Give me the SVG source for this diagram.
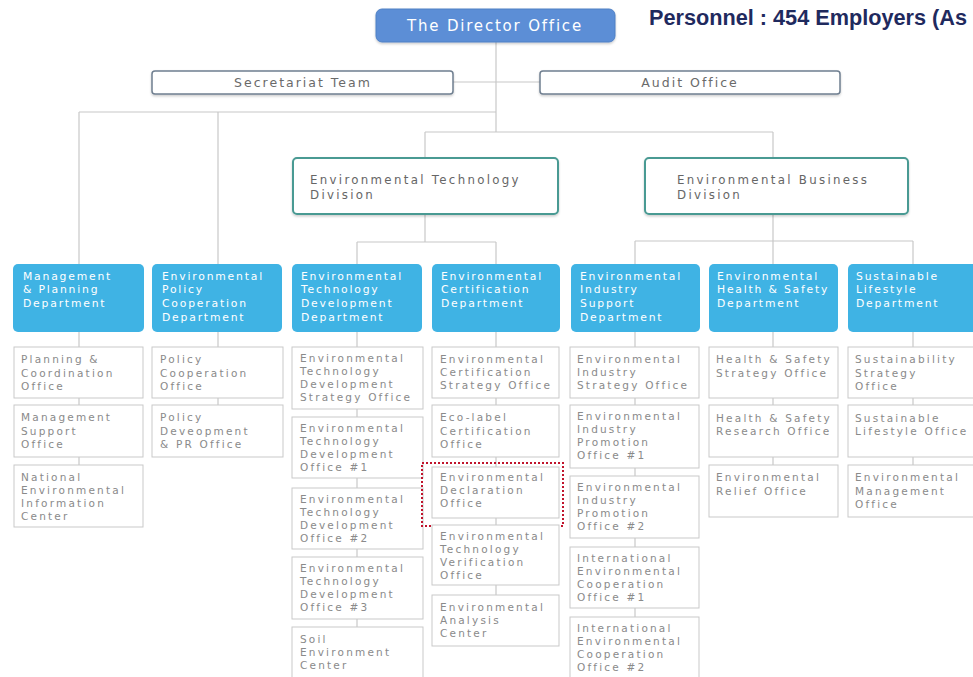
<svg xmlns="http://www.w3.org/2000/svg" width="973" height="677" viewBox="0 0 973 677">
<defs>
<style>
.bg{fill:#ffffff}
.dir{fill:#5b8ed6;stroke:#4f80c4;stroke-width:1}
.dirt{font-family:"DejaVu Sans",sans-serif;font-size:15px;fill:#ffffff;letter-spacing:1.8px}
.per{font-family:"Liberation Sans","DejaVu Sans",sans-serif;font-weight:bold;font-size:22px;fill:#1f2a5e}
.sec{fill:#ffffff;stroke:#6f7f90;stroke-width:1.5}
.sect{font-family:"DejaVu Sans",sans-serif;font-size:12.5px;fill:#6a6a6a;letter-spacing:2px}
.div{fill:#ffffff;stroke:#4a9a93;stroke-width:2}
.divt{font-family:"DejaVu Sans",sans-serif;font-size:11.8px;fill:#666666;letter-spacing:2.3px}
.dept{fill:#3fb3e4}
.dt{font-family:"DejaVu Sans",sans-serif;font-size:10.8px;fill:#ffffff;letter-spacing:1.8px}
.off{fill:#ffffff;stroke:#c9c9c9;stroke-width:1}
.ot{font-family:"DejaVu Sans",sans-serif;font-size:10.5px;fill:#8a8a8a;letter-spacing:2.2px}
.ln{fill:none;stroke:#c8c8c8;stroke-width:1.2}
.hl{fill:none;stroke:#c0142c;stroke-width:2;stroke-dasharray:2 2}
</style>
<filter id="sh" x="-5%" y="-10%" width="110%" height="140%">
<feDropShadow dx="0" dy="1.5" stdDeviation="1" flood-color="#000" flood-opacity="0.2"/>
</filter>
</defs>
<rect class="bg" x="0" y="0" width="973" height="677"/>

<g id="connectors">
<path class="ln" d="M496 42V132 M453 82H540 M79 112H496 M79 112V264 M218 112V264 M425 132H773 M425 132V158 M773 132V158 M425 214V242 M357 242H496 M357 242V264 M496 242V264 M773 214V264 M635 241H913 M635 241V264 M913 241V264"/>
<path class="ln" d="M79 332V347 M79 398V405 M79 457V465 M218 332V347 M218 398V405 M357 332V347 M357 409V417 M357 478V488 M357 549V557 M357 619V627 M496 332V347 M496 398V405 M496 457V467 M496 518V525 M496 585V595 M635 332V347 M635 398V405 M635 468V476 M635 538V547 M635 608V617 M773 332V347 M773 398V405 M773 457V465 M913 332V347 M913 398V405 M913 457V465"/>
</g>

<g id="director">
<rect class="dir" x="376" y="9" width="239" height="33" rx="6" filter="url(#sh)"/>
<text class="dirt" x="495" y="31" text-anchor="middle">The Director Office</text>
</g>
<g id="personnel">
<text class="per" x="649" y="25" textLength="318" lengthAdjust="spacingAndGlyphs">Personnel : 454 Employers (As</text>
</g>

<g id="secretariat">
<rect class="sec" x="152" y="71" width="301" height="23" rx="3" filter="url(#sh)"/>
<text class="sect" x="303" y="87" text-anchor="middle">Secretariat Team</text>
</g>
<g id="audit">
<rect class="sec" x="540" y="71" width="300" height="23" rx="3" filter="url(#sh)"/>
<text class="sect" x="690" y="87" text-anchor="middle">Audit Office</text>
</g>

<g id="div-tech">
<rect class="div" x="293" y="158" width="265" height="56" rx="4" filter="url(#sh)"/>
<text class="divt" x="310" y="184">Environmental Technology</text>
<text class="divt" x="310" y="199">Division</text>
</g>
<g id="div-business">
<rect class="div" x="645" y="158" width="263" height="56" rx="4" filter="url(#sh)"/>
<text class="divt" x="677" y="184">Environmental Business</text>
<text class="divt" x="677" y="199">Division</text>
</g>

<g id="dept-mgmt">
<rect class="dept" x="13" y="264" width="131" height="68" rx="5"/>
<text class="dt"><tspan x="23" y="280">Management</tspan><tspan x="23" y="293">&amp; Planning</tspan><tspan x="23" y="307">Department</tspan></text>
</g>
<g id="dept-policy">
<rect class="dept" x="152" y="264" width="130" height="68" rx="5"/>
<text class="dt"><tspan x="162" y="280">Environmental</tspan><tspan x="162" y="293">Policy</tspan><tspan x="162" y="307">Cooperation</tspan><tspan x="162" y="321">Department</tspan></text>
</g>
<g id="dept-techdev">
<rect class="dept" x="292" y="264" width="130" height="68" rx="5"/>
<text class="dt"><tspan x="301" y="280">Environmental</tspan><tspan x="301" y="293">Technology</tspan><tspan x="301" y="307">Development</tspan><tspan x="301" y="321">Department</tspan></text>
</g>
<g id="dept-cert">
<rect class="dept" x="432" y="264" width="128" height="68" rx="5"/>
<text class="dt"><tspan x="441" y="280">Environmental</tspan><tspan x="441" y="293">Certification</tspan><tspan x="441" y="307">Department</tspan></text>
</g>
<g id="dept-industry">
<rect class="dept" x="571" y="264" width="129" height="68" rx="5"/>
<text class="dt"><tspan x="580" y="280">Environmental</tspan><tspan x="580" y="293">Industry</tspan><tspan x="580" y="307">Support</tspan><tspan x="580" y="321">Department</tspan></text>
</g>
<g id="dept-health">
<rect class="dept" x="709" y="264" width="129" height="68" rx="5"/>
<text class="dt"><tspan x="717" y="280">Environmental</tspan><tspan x="717" y="293">Health &amp; Safety</tspan><tspan x="717" y="307">Department</tspan></text>
</g>
<g id="dept-sustainable">
<rect class="dept" x="848" y="264" width="130" height="68" rx="5"/>
<text class="dt"><tspan x="856" y="280">Sustainable</tspan><tspan x="856" y="293">Lifestyle</tspan><tspan x="856" y="307">Department</tspan></text>
</g>

<g id="off-planning"><rect class="off" x="14" y="347" width="129" height="51"/><text class="ot"><tspan x="21" y="363">Planning &amp;</tspan><tspan x="21" y="377">Coordination</tspan><tspan x="21" y="390">Office</tspan></text></g>
<g id="off-mgmtsupport"><rect class="off" x="14" y="405" width="129" height="52"/><text class="ot"><tspan x="21" y="421">Management</tspan><tspan x="21" y="435">Support</tspan><tspan x="21" y="448">Office</tspan></text></g>
<g id="off-neic"><rect class="off" x="14" y="465" width="129" height="62"/><text class="ot"><tspan x="21" y="481">National</tspan><tspan x="21" y="494">Environmental</tspan><tspan x="21" y="507">Information</tspan><tspan x="21" y="520">Center</tspan></text></g>

<g id="off-policycoop"><rect class="off" x="152" y="347" width="131" height="51"/><text class="ot"><tspan x="160" y="363">Policy</tspan><tspan x="160" y="377">Cooperation</tspan><tspan x="160" y="390">Office</tspan></text></g>
<g id="off-policydev"><rect class="off" x="152" y="405" width="131" height="52"/><text class="ot"><tspan x="160" y="421">Policy</tspan><tspan x="160" y="435">Deveopment</tspan><tspan x="160" y="448">&amp; PR Office</tspan></text></g>

<g id="off-techstrategy"><rect class="off" x="292" y="347" width="131" height="62"/><text class="ot"><tspan x="300" y="362">Environmental</tspan><tspan x="300" y="375">Technology</tspan><tspan x="300" y="388">Development</tspan><tspan x="300" y="401">Strategy Office</tspan></text></g>
<g id="off-techdev1"><rect class="off" x="292" y="417" width="131" height="61"/><text class="ot"><tspan x="300" y="432">Environmental</tspan><tspan x="300" y="445">Technology</tspan><tspan x="300" y="458">Development</tspan><tspan x="300" y="471">Office #1</tspan></text></g>
<g id="off-techdev2"><rect class="off" x="292" y="488" width="131" height="61"/><text class="ot"><tspan x="300" y="503">Environmental</tspan><tspan x="300" y="516">Technology</tspan><tspan x="300" y="529">Development</tspan><tspan x="300" y="542">Office #2</tspan></text></g>
<g id="off-techdev3"><rect class="off" x="292" y="557" width="131" height="62"/><text class="ot"><tspan x="300" y="572">Environmental</tspan><tspan x="300" y="585">Technology</tspan><tspan x="300" y="598">Development</tspan><tspan x="300" y="611">Office #3</tspan></text></g>
<g id="off-soil"><rect class="off" x="292" y="627" width="131" height="62"/><text class="ot"><tspan x="300" y="643">Soil</tspan><tspan x="300" y="656">Environment</tspan><tspan x="300" y="669">Center</tspan></text></g>

<g id="off-certstrategy"><rect class="off" x="432" y="347" width="127" height="51"/><text class="ot"><tspan x="440" y="363">Environmental</tspan><tspan x="440" y="376">Certification</tspan><tspan x="440" y="389">Strategy Office</tspan></text></g>
<g id="off-ecolabel"><rect class="off" x="432" y="405" width="127" height="52"/><text class="ot"><tspan x="440" y="421">Eco-label</tspan><tspan x="440" y="435">Certification</tspan><tspan x="440" y="448">Office</tspan></text></g>
<g id="off-declaration"><rect class="off" x="432" y="467" width="127" height="51"/><text class="ot"><tspan x="440" y="481">Environmental</tspan><tspan x="440" y="494">Declaration</tspan><tspan x="440" y="507">Office</tspan></text><rect class="hl" x="422" y="463" width="141" height="63"/></g>
<g id="off-verification"><rect class="off" x="432" y="525" width="127" height="60"/><text class="ot"><tspan x="440" y="540">Environmental</tspan><tspan x="440" y="553">Technology</tspan><tspan x="440" y="566">Verification</tspan><tspan x="440" y="579">Office</tspan></text></g>
<g id="off-analysis"><rect class="off" x="432" y="595" width="127" height="51"/><text class="ot"><tspan x="440" y="611">Environmental</tspan><tspan x="440" y="624">Analysis</tspan><tspan x="440" y="637">Center</tspan></text></g>

<g id="off-indstrategy"><rect class="off" x="570" y="347" width="129" height="51"/><text class="ot"><tspan x="577" y="363">Environmental</tspan><tspan x="577" y="376">Industry</tspan><tspan x="577" y="389">Strategy Office</tspan></text></g>
<g id="off-indpromo1"><rect class="off" x="570" y="405" width="129" height="63"/><text class="ot"><tspan x="577" y="420">Environmental</tspan><tspan x="577" y="433">Industry</tspan><tspan x="577" y="446">Promotion</tspan><tspan x="577" y="459">Office #1</tspan></text></g>
<g id="off-indpromo2"><rect class="off" x="570" y="476" width="129" height="62"/><text class="ot"><tspan x="577" y="491">Environmental</tspan><tspan x="577" y="504">Industry</tspan><tspan x="577" y="517">Promotion</tspan><tspan x="577" y="530">Office #2</tspan></text></g>
<g id="off-intl1"><rect class="off" x="570" y="547" width="129" height="61"/><text class="ot"><tspan x="577" y="562">International</tspan><tspan x="577" y="575">Environmental</tspan><tspan x="577" y="588">Cooperation</tspan><tspan x="577" y="601">Office #1</tspan></text></g>
<g id="off-intl2"><rect class="off" x="570" y="617" width="129" height="72"/><text class="ot"><tspan x="577" y="632">International</tspan><tspan x="577" y="645">Environmental</tspan><tspan x="577" y="658">Cooperation</tspan><tspan x="577" y="671">Office #2</tspan></text></g>

<g id="off-hsstrategy"><rect class="off" x="709" y="347" width="129" height="51"/><text class="ot"><tspan x="716" y="363">Health &amp; Safety</tspan><tspan x="716" y="377">Strategy Office</tspan></text></g>
<g id="off-hsresearch"><rect class="off" x="709" y="405" width="129" height="52"/><text class="ot"><tspan x="716" y="422">Health &amp; Safety</tspan><tspan x="716" y="435">Research Office</tspan></text></g>
<g id="off-relief"><rect class="off" x="709" y="465" width="129" height="52"/><text class="ot"><tspan x="716" y="481">Environmental</tspan><tspan x="716" y="495">Relief Office</tspan></text></g>

<g id="off-sustrategy"><rect class="off" x="848" y="347" width="130" height="51"/><text class="ot"><tspan x="855" y="363">Sustainability</tspan><tspan x="855" y="377">Strategy</tspan><tspan x="855" y="390">Office</tspan></text></g>
<g id="off-lifestyle"><rect class="off" x="848" y="405" width="130" height="52"/><text class="ot"><tspan x="855" y="422">Sustainable</tspan><tspan x="855" y="435">Lifestyle Office</tspan></text></g>
<g id="off-envmgmt"><rect class="off" x="848" y="465" width="130" height="52"/><text class="ot"><tspan x="855" y="481">Environmental</tspan><tspan x="855" y="495">Management</tspan><tspan x="855" y="508">Office</tspan></text></g>
</svg>
